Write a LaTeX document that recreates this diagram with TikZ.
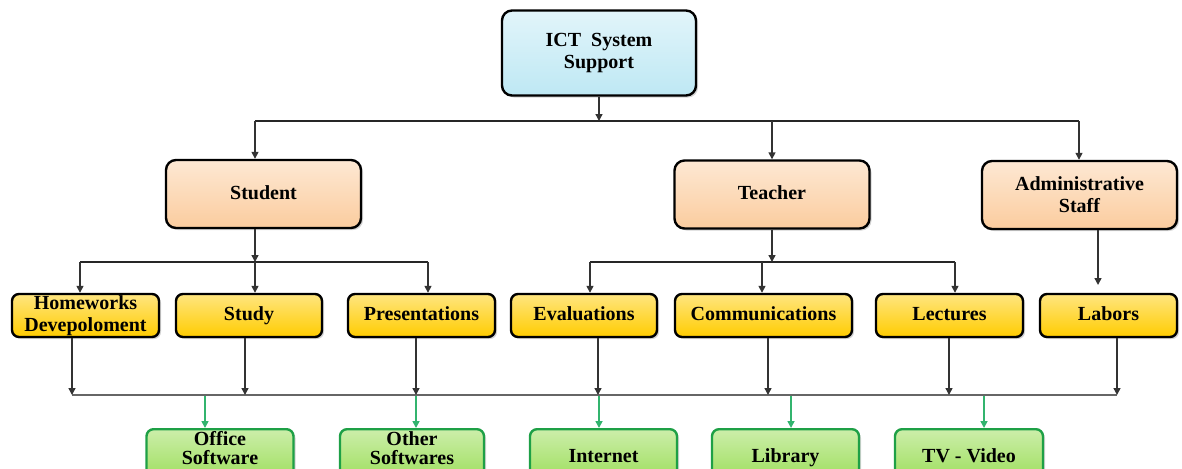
\documentclass[tikz,border=0pt]{standalone}
\usepackage{fontspec}
\setmainfont{Liberation Serif}
\usepackage{xcolor}
\usepackage{tikz}
\usetikzlibrary{positioning,arrows.meta,shadows,calc}

\definecolor{ictblue}{RGB}{190,232,244}
\definecolor{staffpeach}{RGB}{251,204,158}
\definecolor{taskyellow}{RGB}{255,204,0}
\definecolor{toolgreen}{RGB}{153,221,85}
\definecolor{toolborder}{RGB}{30,160,70}
\definecolor{toolarrow}{RGB}{50,180,110}

\begin{document}
\begin{tikzpicture}[x=0.5pt,y=-0.5pt,
  box/.style={draw=black, line width=1.2pt, rounded corners=5pt, align=center, inner sep=0pt,
    font=\bfseries\fontsize{10}{11}\selectfont,
    drop shadow={opacity=0.35, shadow xshift=1pt, shadow yshift=-1pt}},
  oneline/.style={text height=7pt, text depth=2pt},
  rootbox/.style={box, top color=ictblue!45!white, bottom color=ictblue, minimum width=97pt, minimum height=42.5pt},
  groupbox/.style={box, top color=staffpeach!45!white, bottom color=staffpeach, minimum width=97.5pt, minimum height=34pt},
  taskbox/.style={box, rounded corners=3.5pt, top color=taskyellow!50!white, bottom color=taskyellow, minimum height=21.5pt},
  toolbox/.style={box, draw=toolborder, rounded corners=3.5pt, top color=toolgreen!50!white, bottom color=toolgreen,
    minimum width=73.5pt, minimum height=28pt, anchor=north},
  twoline/.style={inner ysep=0.5pt, text depth=9pt, font=\bfseries\fontsize{10}{9.5}\selectfont},
  arr/.style={-{Triangle[width=3.5pt,length=3.5pt]}, draw=black!80, line width=0.7pt},
  garr/.style={-{Triangle[width=3.5pt,length=3.5pt]}, draw=toolarrow, line width=0.8pt},
  bus/.style={draw=black!85, line width=0.8pt},
  lowbus/.style={draw=black!60, line width=1.1pt},
]
\useasboundingbox (0,0) rectangle (1182,468);
\clip (0,0) rectangle (1182,468);

% boxes
\node[rootbox] (ict) at (599,53) {ICT\ \ System\\Support};

\node[groupbox, oneline] (stu) at (263.5,194) {Student};
\node[groupbox, oneline] (tea) at (772,194.5) {Teacher};
\node[groupbox] (adm) at (1079.5,195) {Administrative\\Staff};

\node[taskbox, minimum width=73.5pt] (hw) at (85.5,315.5) {Homeworks\\Devepoloment};
\node[taskbox, oneline, minimum width=73pt] (stdy) at (249,315.5) {Study};
\node[taskbox, oneline, minimum width=73.5pt] (pres) at (421.5,315.5) {Presentations};
\node[taskbox, oneline, minimum width=73pt] (eval) at (584,315.5) {Evaluations};
\node[taskbox, oneline, minimum width=88.5pt] (comm) at (763.5,315.5) {Communications};
\node[taskbox, oneline, minimum width=73.5pt] (lect) at (949.5,315.5) {Lectures};
\node[taskbox, oneline, minimum width=68.5pt] (lab) at (1108.5,315.5) {Labors};

\node[toolbox, twoline] (off) at (220,428) {Office\\Software};
\node[toolbox, twoline, minimum width=72pt] (oth) at (412,428) {Other\\Softwares};
\node[toolbox, oneline] (inet) at (603.5,428) {Internet};
\node[toolbox, oneline] (lib) at (785.5,428) {Library};
\node[toolbox, oneline, minimum width=74pt] (tv) at (969,428) {TV - Video};

% first level
\coordinate (r0) at (599,121);
\coordinate (r1) at (255,121);
\coordinate (r2) at (772,121);
\coordinate (r3) at (1079,121);
\draw[bus] (r1) -- (r3);
\draw[arr] (ict.south -| r0) -- (r0);
\draw[arr] (r1) -- (r1 |- stu.north);
\draw[arr] (r2) -- (r2 |- tea.north);
\draw[arr] (r3) -- (r3 |- adm.north);

% student tasks
\coordinate (s0) at (255,262);
\coordinate (s1) at (80,262);
\coordinate (s3) at (428,262);
\draw[bus] (s1) -- (s3);
\draw[arr] (stu.south -| s0) -- (s0);
\draw[arr] (s1) -- (s1 |- hw.north);
\draw[arr] (s0) -- (s0 |- stdy.north);
\draw[arr] (s3) -- (s3 |- pres.north);

% teacher tasks
\coordinate (t0) at (772,262);
\coordinate (t1) at (590,262);
\coordinate (t2) at (762,262);
\coordinate (t3) at (955,262);
\draw[bus] (t1) -- (t3);
\draw[arr] (tea.south -| t0) -- (t0);
\draw[arr] (t1) -- (t1 |- eval.north);
\draw[arr] (t2) -- (t2 |- comm.north);
\draw[arr] (t3) -- (t3 |- lect.north);

% staff task
\coordinate (a1) at (1098,294);
\draw[arr, shorten >=4.5pt] (adm.south -| a1) -- (a1);

% tools
\coordinate (b1) at (72,395);
\coordinate (b2) at (245,395);
\coordinate (b3) at (416,395);
\coordinate (b4) at (598,395);
\coordinate (b5) at (768,395);
\coordinate (b6) at (949,395);
\coordinate (b7) at (1117,395);
\draw[lowbus] (b1) -- (b7);
\draw[arr] (hw.south -| b1) -- (b1);
\draw[arr] (stdy.south -| b2) -- (b2);
\draw[arr] (pres.south -| b3) -- (b3);
\draw[arr] (eval.south -| b4) -- (b4);
\draw[arr] (comm.south -| b5) -- (b5);
\draw[arr] (lect.south -| b6) -- (b6);
\draw[arr] (lab.south -| b7) -- (b7);

\coordinate (g1) at (205,396);
\coordinate (g2) at (416,396);
\coordinate (g3) at (599,396);
\coordinate (g4) at (791,396);
\coordinate (g5) at (984,396);
\draw[garr] (g1) -- (g1 |- off.north);
\draw[garr] (g2) -- (g2 |- oth.north);
\draw[garr] (g3) -- (g3 |- inet.north);
\draw[garr] (g4) -- (g4 |- lib.north);
\draw[garr] (g5) -- (g5 |- tv.north);
\end{tikzpicture}
\end{document}
